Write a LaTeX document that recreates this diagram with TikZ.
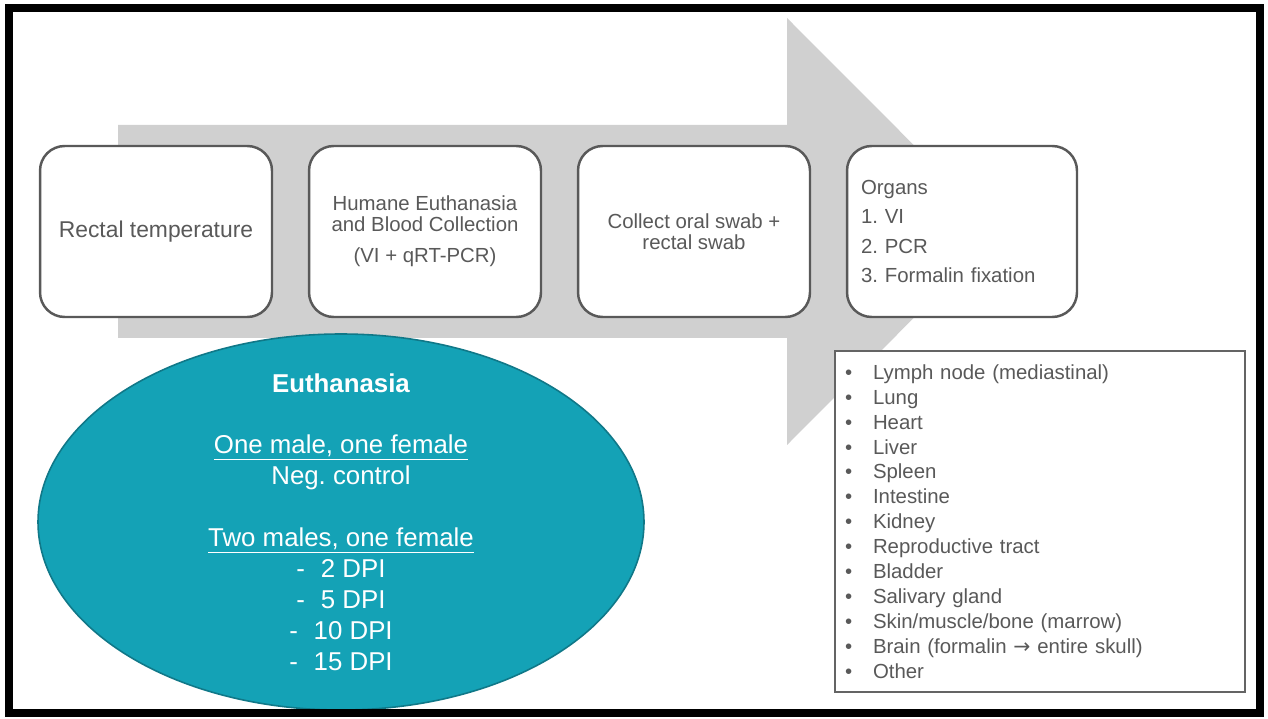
\documentclass[tikz,border=0pt]{standalone}
\usepackage{fontspec}
\setmainfont{Liberation Sans}
\newfontfamily\arrowfont{DejaVu Sans}
\usetikzlibrary{positioning}
\frenchspacing

\definecolor{arrowgray}{RGB}{208,208,208}
\definecolor{boxline}{RGB}{89,89,89}
\definecolor{listline}{RGB}{100,100,100}
\definecolor{euthfill}{RGB}{20,162,182}
\definecolor{euthline}{RGB}{16,120,136}

\tikzset{
	stepbox/.style={draw=boxline, line width=1.4pt, fill=white, rounded corners=14pt,
		minimum width=4.64cm, minimum height=3.42cm, text=boxline, align=center,
		font=\fontsize{11.6}{11.9}\selectfont},
	listbox/.style={draw=listline, line width=1.2pt, fill=white, minimum width=8.2cm,
		minimum height=6.82cm, text width=7.8cm, inner xsep=0.2cm, align=left, text=boxline,
		font=\fontsize{11.6}{14.17}\selectfont}
}
\newcommand{\organitem}[1]{\makebox[0.56cm][l]{\textbullet}#1}

\begin{document}
\begin{tikzpicture}[x=0.02cm, y=-0.02cm]
	\useasboundingbox[fill=white] (0,0) rectangle (1268,719);
	
	%arrow
	\fill[arrowgray] (118,125) -- (787,125) -- (787,18) -- (1000,231.5)
		-- (787,445) -- (787,338) -- (118,338) -- cycle;
	
	%boxes
	\node[stepbox, font=\fontsize{13}{15}\selectfont] (temp) at (156,231.5) {Rectal temperature};
	\node[stepbox] (blood) at (425,231.5) {Humane Euthanasia\\and Blood Collection\\[5.7pt](VI + qRT-PCR)};
	\node[stepbox] (swab) at (694,231.5) {Collect oral swab +\\rectal swab};
	\node[stepbox, minimum width=4.6cm, align=left, text width=4.04cm, inner xsep=0.28cm,
		font=\fontsize{11.6}{16.6}\selectfont] (organs) at (962,231.5)
		{Organs\\1. VI\\2. PCR\\3. Formalin fixation};
	
	%ellipse
	\filldraw[fill=euthfill, draw=euthline, line width=0.9pt] (341,522) ellipse (303 and 188);
	\node[text=white, align=center, font=\fontsize{14.7}{17.6}\selectfont] (euth) at (341,522)
		{\textbf{Euthanasia}\\[17.6pt]
		\underline{One male, one female}\\
		Neg. control\\[17.6pt]
		\underline{Two males, one female}\\
		-\hspace{9pt}2 DPI\\
		-\hspace{9pt}5 DPI\\
		-\hspace{9pt}10 DPI\\
		-\hspace{9pt}15 DPI};
	
	%organ list
	\node[listbox] (organlist) at (1040,521.5) {%
		\organitem{Lymph node (mediastinal)}\\
		\organitem{Lung}\\
		\organitem{Heart}\\
		\organitem{Liver}\\
		\organitem{Spleen}\\
		\organitem{Intestine}\\
		\organitem{Kidney}\\
		\organitem{Reproductive tract}\\
		\organitem{Bladder}\\
		\organitem{Salivary gland}\\
		\organitem{Skin/muscle/bone (marrow)}\\
		\organitem{Brain (formalin {\arrowfont →} entire skull)}\\
		\organitem{Other}};
	
	%frame
	\draw[line width=4.5pt] (9,8) rectangle (1260,713);
\end{tikzpicture}
\end{document}
